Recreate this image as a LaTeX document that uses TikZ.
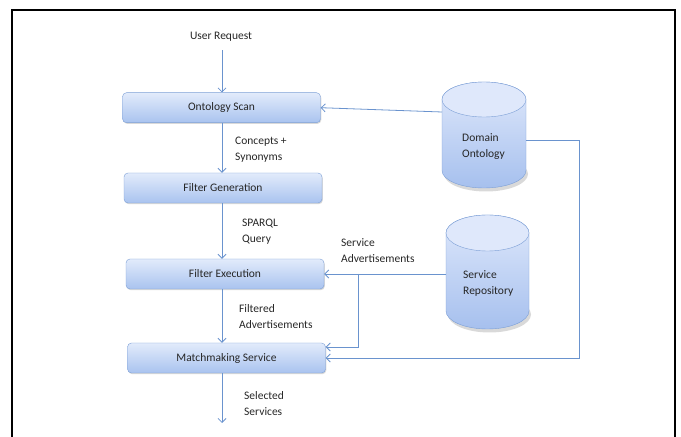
\documentclass[tikz,border=0pt]{standalone}
\usepackage{fontspec}
\setmainfont{Carlito}
\usetikzlibrary{arrows.meta,shadows}

\definecolor{boxtop}{HTML}{E2EBFB}
\definecolor{boxbot}{HTML}{A9C3EF}
\definecolor{boxline}{HTML}{7C9FD6}
\definecolor{flowc}{HTML}{6A93CE}
\definecolor{cyltop}{HTML}{DFE8FB}
\definecolor{cylbot}{HTML}{A6C0EE}

\tikzset{
  box/.style={draw=boxline, rounded corners=4pt, top color=boxtop, bottom color=boxbot,
    minimum width=198pt, minimum height=30pt, text=black!85, font=\fontsize{11.5}{13}\selectfont,
    drop shadow={opacity=0.3, shadow xshift=0.8pt, shadow yshift=-1.2pt}},
  flow/.style={draw=flowc, line width=0.8pt, -{Straight Barb[length=4pt, width=8pt]}},
  note/.style={align=left, anchor=west, inner sep=0pt, text=black!85,
    font=\fontsize{11.5}{16}\selectfont},
}

\begin{document}
\begin{tikzpicture}[x=1pt, y=1pt]
    \useasboundingbox (0,0) rectangle (681,437);

    % outer frame (open at the bottom)
    \draw[line width=2pt] (12,-5) -- (12,427) -- (675,427) -- (675,-5);

    % cylinder: Domain Ontology
    \fill[black, opacity=0.15] (486,263) ellipse[x radius=42, y radius=17.5];
    \path[draw=boxline, top color=cyltop, bottom color=cylbot]
        (442,337.5) -- (442,266.5) arc[start angle=180, end angle=360, x radius=42, y radius=17.5]
        -- (526,337.5) arc[start angle=0, end angle=180, x radius=42, y radius=17.5] -- cycle;
    \path[draw=boxline, fill=cyltop] (484,337.5) ellipse[x radius=42, y radius=17.5];

    % cylinder: Service Repository
    \fill[black, opacity=0.15] (489.5,122.5) ellipse[x radius=41.5, y radius=18];
    \path[draw=boxline, top color=cyltop, bottom color=cylbot]
        (446,204) -- (446,126) arc[start angle=180, end angle=360, x radius=41.5, y radius=18]
        -- (529,204) arc[start angle=0, end angle=180, x radius=41.5, y radius=18] -- cycle;
    \path[draw=boxline, fill=cyltop] (487.5,204) ellipse[x radius=41.5, y radius=18];

    % process steps
    \node[box] (scan)  at (221.5,329.3) {Ontology Scan};
    \node[box] (gen)   at (223,249)     {Filter Generation};
    \node[box] (exec)  at (225,163)     {Filter Execution};
    \node[box] (match) at (226.5,79)    {Matchmaking Service};

    % texts
    \node[text=black!85, font=\fontsize{11.5}{13}\selectfont] (req) at (221,400) {User Request};
    \node[note] (dom)  at (462,290) {Domain\\Ontology};
    \node[note] (repo) at (463,154) {Service\\Repository};
    \node[note] (cs)   at (235,287)   {Concepts +\\Synonyms};
    \node[note] (sq)   at (242,205)   {SPARQL\\Query};
    \node[note] (sa)   at (341,186)   {Service\\Advertisements};
    \node[note] (fa)   at (239,120)   {Filtered\\Advertisements};
    \node[note] (ss)   at (244,33.5)  {Selected\\Services};

    % ports
    \coordinate (domL)  at (442,325);
    \coordinate (domR)  at (526,297);
    \coordinate (repoL) at (446,163);
    \coordinate (split) at (358,163);
    \coordinate (out)   at (222,14);

    % main flow (one vertical line)
    \draw[flow] ([yshift=-5pt]req.south -| out) -- (scan.north -| out);
    \draw[flow] (scan.south -| out) -- (gen.north -| out);
    \draw[flow] (gen.south -| out) -- (exec.north -| out);
    \draw[flow] (exec.south -| out) -- (match.north -| out);
    \draw[flow] (match.south -| out) -- (out);

    % side inputs
    \draw[flow] (domL) -- (scan.east);
    \draw[flow] (domR) -- (579,297) |- (match.east);
    \draw[flow] (repoL) -- (exec.east);
    \draw[flow] (split) |- ([yshift=11pt]match.east);
\end{tikzpicture}
\end{document}
